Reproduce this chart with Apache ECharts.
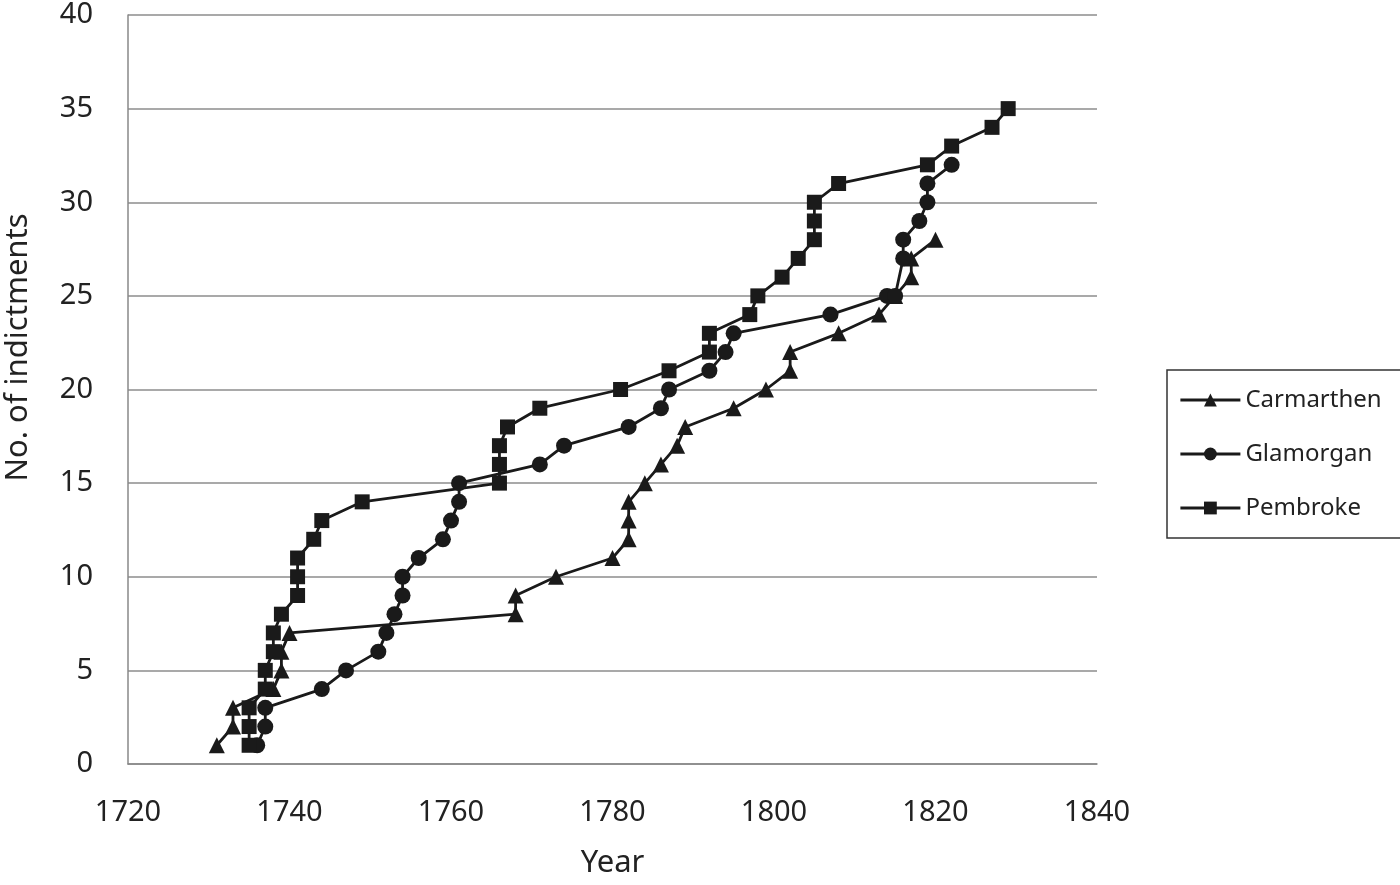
<!DOCTYPE html>
<html>
<head>
<meta charset="utf-8">
<script src="https://cdn.jsdelivr.net/npm/echarts@6/dist/echarts.min.js"></script>
<style>
  html, body { margin: 0; padding: 0; background: #fff; }
  #chart { width: 1400px; height: 885px; }
</style>
</head>
<body>
<div id="chart"></div>
<script>
// years and cumulative counts
var carmarthenYears = [1731, 1733, 1733, 1738, 1739, 1739, 1740, 1768, 1768, 1773, 1780, 1782, 1782, 1782, 1784, 1786, 1788, 1789, 1795, 1799, 1802, 1802, 1808, 1813, 1815, 1817, 1817, 1820];
var carmarthenCounts = [1, 2, 3, 4, 5, 6, 7, 8, 9, 10, 11, 12, 13, 14, 15, 16, 17, 18, 19, 20, 21, 22, 23, 24, 25, 26, 27, 28];

var glamorganYears = [1736, 1737, 1737, 1744, 1747, 1751, 1752, 1753, 1754, 1754, 1756, 1759, 1760, 1761, 1761, 1771, 1774, 1782, 1786, 1787, 1792, 1794, 1795, 1807, 1814, 1815, 1816, 1816, 1818, 1819, 1819, 1822];
var glamorganCounts = [1, 2, 3, 4, 5, 6, 7, 8, 9, 10, 11, 12, 13, 14, 15, 16, 17, 18, 19, 20, 21, 22, 23, 24, 25, 25, 27, 28, 29, 30, 31, 32];

var pembrokeYears = [1735, 1735, 1735, 1737, 1737, 1738, 1738, 1739, 1741, 1741, 1741, 1743, 1744, 1749, 1766, 1766, 1766, 1767, 1771, 1781, 1787, 1792, 1792, 1797, 1798, 1801, 1803, 1805, 1805, 1805, 1808, 1819, 1822, 1827, 1829];
var pembrokeCounts = [1, 2, 3, 4, 5, 6, 7, 8, 9, 10, 11, 12, 13, 14, 15, 16, 17, 18, 19, 20, 21, 22, 23, 24, 25, 26, 27, 28, 29, 30, 31, 32, 33, 34, 35];

var yearTicks = [1720, 1840, 20];
var countTicks = [0, 40, 5];

function pairs(xs, ys) {
  return xs.map(function (x, i) { return [x, ys[i]]; });
}

var font = '"Noto Sans", sans-serif';
var ink = '#1a1a1a';

function lineSeries(name, symbol, size, xs, ys) {
  return {
    name: name,
    type: 'line',
    symbol: symbol,
    symbolSize: size,
    showAllSymbol: true,
    data: pairs(xs, ys),
    lineStyle: { color: ink, width: 2.8 },
    itemStyle: { color: ink },
    animation: false
  };
}

var chart = echarts.init(document.getElementById('chart'));
chart.setOption({
  backgroundColor: '#fff',
  textStyle: { fontFamily: font },
  grid: { left: 128, top: 15, width: 969, height: 749, outerBoundsMode: 'none', containLabel: false },
  legend: {
    orient: 'vertical',
    left: 1167,
    top: 370,
    padding: [18, 20, 18, 12],
    itemWidth: 60,
    itemHeight: 16,
    itemGap: 30,
    borderColor: '#333',
    borderWidth: 1.5,
    lineStyle: { width: 2.8 },
    textStyle: { fontFamily: font, fontSize: 24, color: '#222' },
    data: ['Carmarthen', 'Glamorgan', 'Pembroke']
  },
  xAxis: {
    type: 'value',
    min: yearTicks[0],
    max: yearTicks[1],
    interval: yearTicks[2],
    name: 'Year',
    nameLocation: 'middle',
    nameGap: 84,
    nameTextStyle: { fontFamily: font, fontSize: 31, color: '#222' },
    axisLine: { lineStyle: { color: '#888', width: 1.5 } },
    axisTick: { show: false },
    splitLine: { show: false },
    axisLabel: { fontFamily: font, fontSize: 29, color: '#222', margin: 34, formatter: function (v) { return String(v); } }
  },
  yAxis: {
    type: 'value',
    min: countTicks[0],
    max: countTicks[1],
    interval: countTicks[2],
    name: 'No. of indictments',
    nameLocation: 'middle',
    nameGap: 94,
    nameTextStyle: { fontFamily: font, fontSize: 31, color: '#222', padding: [0, 0, 0, 84] },
    axisLine: { show: true, lineStyle: { color: '#888', width: 1.5 } },
    axisTick: { show: false },
    splitLine: { lineStyle: { color: '#8c8c8c', width: 1.5 } },
    axisLabel: { fontFamily: font, fontSize: 29, color: '#222', margin: 35 }
  },
  series: [
    lineSeries('Carmarthen', 'triangle', 16, carmarthenYears, carmarthenCounts),
    lineSeries('Glamorgan', 'circle', 16, glamorganYears, glamorganCounts),
    lineSeries('Pembroke', 'rect', 15, pembrokeYears, pembrokeCounts)
  ]
});
</script>
</body>
</html>
